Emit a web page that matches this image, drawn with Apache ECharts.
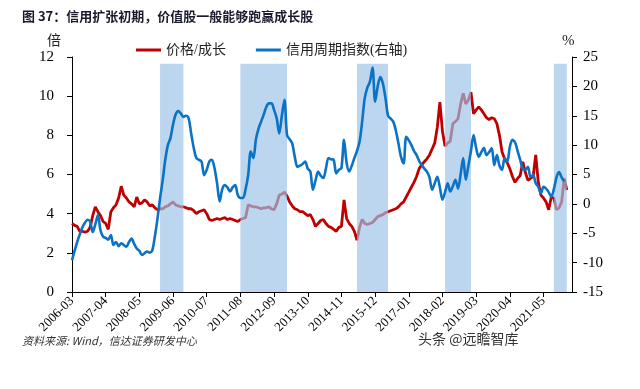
<!DOCTYPE html>
<html>
<head>
<meta charset="utf-8">
<script src="https://cdn.jsdelivr.net/npm/echarts@6/dist/echarts.min.js"></script>
<style>html,body{margin:0;padding:0;background:#fff;}#c{width:640px;height:389px;}</style>
</head>
<body>
<div id="c"></div>
<script>
// Categories: months from 2006-03 to 2022-04
var startYear = 2006, startMonth = 3, monthCount = 194;
var months = [];
for (var i = 0; i < monthCount; i++) {
  var t = (startMonth - 1) + i;
  var y = startYear + Math.floor(t / 12), m = (t % 12) + 1;
  months.push(y + '-' + (m < 10 ? '0' + m : m));
}

// 价格/成长 (left axis, 倍)
var valueGrowth = [
  3.5,3.4,3.35,3.1,3.1,3.05,3.1,3.3,3.9,4.35,
  4.1,3.9,3.6,3.5,3.2,4.1,4.3,4.45,4.8,5.4,
  4.95,4.8,4.6,4.5,4.35,4.85,4.5,4.55,4.7,4.6,
  4.4,4.45,4.3,4.2,4.25,4.25,4.35,4.4,4.5,4.6,
  4.45,4.4,4.35,4.35,4.3,4.25,4.25,4.15,4.0,4.1,
  4.15,4.2,4.0,3.7,3.65,3.7,3.75,3.7,3.75,3.8,
  3.7,3.75,3.7,3.65,3.6,3.7,3.75,3.8,4.45,4.4,
  4.35,4.35,4.3,4.25,4.3,4.3,4.35,4.25,4.2,4.5,
  4.95,5.0,5.1,4.9,4.6,4.4,4.25,4.2,4.1,4.1,
  4.0,3.9,3.95,3.7,3.35,3.5,3.65,3.7,3.5,3.35,
  3.3,3.2,3.1,3.3,3.35,4.7,3.75,3.5,3.35,3.1,
  2.65,3.3,3.7,3.5,3.45,3.5,3.55,3.7,3.85,3.9,
  3.95,4.05,4.1,4.15,4.2,4.25,4.35,4.5,4.6,4.85,
  5.1,5.35,5.6,5.9,6.3,6.5,6.65,6.8,7.0,7.3,
  7.6,8.4,9.7,8.2,7.45,7.6,7.7,8.6,8.7,8.85,
  9.6,10.15,9.6,9.8,10.2,9.1,9.3,9.45,9.3,9.1,
  8.9,8.8,8.9,8.85,8.6,8.0,7.15,6.8,6.6,6.3,
  5.9,5.6,5.8,5.95,6.65,6.1,5.7,5.8,5.9,7.0,
  5.6,4.95,4.8,4.6,4.2,4.85,4.8,4.2,4.3,4.6,
  5.8,5.2,null,null
];

// 信用周期指数 (right axis, %)
var creditCycle = [
  -9.6,-8.0,-6.5,-5.2,-4.0,-3.2,-2.7,-3.0,-4.8,-3.5,
  -1.9,-4.5,-5.6,-5.8,-6.1,-5.3,-7.0,-6.5,-7.2,-6.7,
  -7.0,-7.3,-6.5,-5.9,-6.8,-7.6,-8.0,-8.7,-8.4,-8.1,
  -8.3,-7.9,-5.5,-2.5,1.0,4.0,7.5,10.0,11.2,13.5,
  15.2,15.8,15.4,14.8,15.0,14.6,12.0,9.5,7.8,7.5,
  7.2,4.9,5.8,7.2,7.5,6.1,3.5,0.4,2.5,3.2,
  2.8,2.1,2.8,3.2,1.5,1.0,1.0,2.5,4.9,8.9,
  7.8,11.0,12.8,14.0,15.2,16.5,17.1,17.1,16.0,14.6,
  12.0,15.0,17.7,11.7,11.0,10.3,8.0,6.3,6.5,6.8,
  7.2,6.0,5.5,2.4,4.0,5.5,4.8,4.4,6.0,7.8,
  7.6,7.5,5.2,5.8,6.1,10.9,7.0,5.5,6.5,7.8,
  9.0,10.6,14.0,18.0,19.8,20.8,23.2,17.4,20.0,21.6,
  20.5,18.0,15.0,14.5,14.0,12.5,10.3,8.0,6.9,11.4,
  10.8,10.0,9.0,8.3,7.3,6.6,6.0,5.5,4.5,2.4,
  3.5,4.6,2.8,0.7,2.0,3.5,2.1,3.0,4.1,2.6,
  5.0,7.8,4.1,6.5,9.0,11.7,9.5,8.0,8.8,9.5,
  8.3,8.8,9.5,6.6,8.3,6.5,5.8,7.8,7.2,9.7,
  10.9,10.5,9.0,7.5,6.0,5.8,6.3,4.6,4.9,3.5,
  2.9,1.8,2.9,2.6,2.0,1.2,2.5,4.5,5.4,4.5,
  3.8,null,null,null
];

// Credit expansion periods (shaded)
var expansionPeriods = [
  ['2009-01','2009-10'],
  ['2011-08','2013-02'],
  ['2015-05','2016-05'],
  ['2018-03','2019-01'],
  ['2021-09','2022-02']
];
var shadeTop = 11.65;

var shadeData = months.map(function (mo) {
  for (var k = 0; k < expansionPeriods.length; k++) {
    if (mo >= expansionPeriods[k][0] && mo <= expansionPeriods[k][1]) return shadeTop;
  }
  return null;
});

var serif = '"Liberation Serif", "Times New Roman", "Noto Sans CJK SC", serif';
var chart = echarts.init(document.getElementById('c'), null, {renderer: 'canvas'});
chart.setOption({
  animation: false,
  backgroundColor: '#fff',
  grid: {left: 72, right: 68, top: 57, bottom: 97, containLabel: false},
  legend: {
    data: ['价格/成长', '信用周期指数(右轴)'],
    left: 131, top: 38,
    icon: 'rect', itemWidth: 25, itemHeight: 3, itemGap: 30,
    textStyle: {fontFamily: serif, fontSize: 14, color: '#222'}
  },
  graphic: [
    {type: 'text', left: 22, top: 10, style: {text: '图 37：信用扩张初期，价值股一般能够跑赢成长股', font: 'bold 13px "Noto Sans CJK SC", sans-serif', fill: '#1a1a2e'}},
    {type: 'text', left: 47, top: 33, style: {text: '倍', font: '14px "Noto Sans CJK SC", serif', fill: '#222'}},
    {type: 'text', left: 562, top: 34, style: {text: '%', font: '15px "Liberation Serif", serif', fill: '#222'}},
    {type: 'text', left: 22, top: 335, style: {text: '资料来源: Wind，信达证券研发中心', font: 'italic 11px "Noto Sans CJK SC", sans-serif', fill: '#333'}},
    {type: 'text', left: 418, top: 332, style: {text: '头条 @远瞻智库', font: '14px "Noto Sans CJK SC", sans-serif', fill: '#333'}}
  ],
  xAxis: {
    type: 'category', data: months, boundaryGap: false,
    axisLine: {lineStyle: {color: '#000', width: 1}},
    axisTick: {show: true, interval: 12, length: 5, lineStyle: {color: '#000'}},
    axisLabel: {interval: 12, rotate: 45, fontFamily: serif, fontSize: 13, color: '#000', margin: 7},
    splitLine: {show: false}
  },
  yAxis: [
    {
      type: 'value', min: 0, max: 12, interval: 2, position: 'left',
      axisLine: {show: true, lineStyle: {color: '#000'}},
      axisTick: {show: true, length: 5, lineStyle: {color: '#000'}},
      axisLabel: {fontFamily: serif, fontSize: 15, color: '#000', margin: 18},
      splitLine: {show: false}
    },
    {
      type: 'value', min: -15, max: 25, interval: 5, position: 'right',
      axisLine: {show: true, lineStyle: {color: '#000'}},
      axisTick: {show: true, length: 5, lineStyle: {color: '#000'}},
      axisLabel: {fontFamily: serif, fontSize: 15, color: '#000', margin: 11},
      splitLine: {show: false}
    }
  ],
  series: [
    {
      name: '价格/成长', type: 'line', yAxisIndex: 0, data: valueGrowth,
      showSymbol: false, symbol: 'none', z: 2,
      lineStyle: {color: '#C00000', width: 2.8}, itemStyle: {color: '#C00000'}
    },
    {
      name: '信用扩张期', type: 'line', yAxisIndex: 0, data: shadeData,
      showSymbol: false, symbol: 'none', z: 3, silent: true,
      lineStyle: {width: 0, opacity: 0},
      areaStyle: {color: 'rgba(155,194,230,0.68)', origin: 'start', opacity: 1}
    },
    {
      name: '信用周期指数(右轴)', type: 'line', yAxisIndex: 1, data: creditCycle,
      showSymbol: false, symbol: 'none', z: 4, smooth: 0.3,
      lineStyle: {color: '#0B72C4', width: 2.6}, itemStyle: {color: '#0B72C4'}
    }
  ]
});
</script>
</body>
</html>
